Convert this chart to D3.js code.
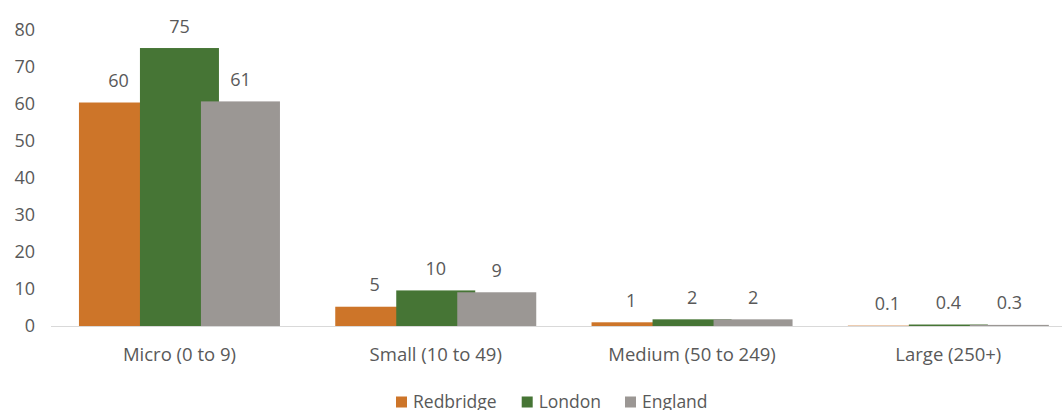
<!DOCTYPE html>
<html>
<head>
<meta charset="utf-8">
<script src="https://cdn.jsdelivr.net/npm/d3@7"></script>
<style>
html,body{margin:0;padding:0;background:#fff;overflow:hidden;}
text{font-family:"Open Sans",sans-serif;fill:#595959;}
</style>
</head>
<body>
<svg id="chart" width="1063" height="410"></svg>
<script>
const categories = ["Micro (0 to 9)", "Small (10 to 49)", "Medium (50 to 249)", "Large (250+)"];
const seriesNames = ["Redbridge", "London", "England"];
const redbridge = [60.3, 5.2, 1.0, 0.1];
const london = [75.0, 9.6, 1.8, 0.4];
const england = [60.6, 9.1, 1.8, 0.3];
const yTicks = [0, 10, 20, 30, 40, 50, 60, 70, 80];
const colors = ["#CD7529", "#467535", "#9B9794"];

const series = [redbridge, london, england];
const svg = d3.select("#chart");

const y = d3.scaleLinear().domain([0, 80]).range([326, 29.5]);
const x = d3.scaleBand().domain(categories).range([51.3, 1076.5]).paddingInner(0).paddingOuter(0);
const barW = 79, barStep = 61;
const groupW = barW + 2 * barStep;
const offset = d3.scaleBand().domain(seriesNames).range([0, 3 * barStep]);

// baseline
svg.append("line").attr("x1", 51).attr("x2", 1062).attr("y1", y(0) + 0.5).attr("y2", y(0) + 0.5)
  .attr("stroke", "#D9D9D9").attr("stroke-width", 1);

// y axis labels
svg.append("g").selectAll("text").data(yTicks).join("text")
  .attr("x", 35).attr("y", d => y(d)).attr("dy", "0.36em")
  .attr("text-anchor", "end").style("font-size", "18px").text(d => d);

// bars
const fmt = v => v >= 1 ? d3.format(".0f")(v) : d3.format(".1f")(v);
seriesNames.forEach((name, si) => {
  const g = svg.append("g");
  const vals = series[si];
  g.selectAll("rect").data(categories).join("rect")
    .attr("x", (c) => x(c) + (x.bandwidth() - groupW) / 2 + offset(name))
    .attr("y", (c, i) => y(vals[i]))
    .attr("width", barW)
    .attr("height", (c, i) => y(0) - y(vals[i]))
    .attr("fill", colors[si]);
});
seriesNames.forEach((name, si) => {
  const vals = series[si];
  svg.append("g").selectAll("text").data(categories).join("text")
    .attr("x", (c) => x(c) + (x.bandwidth() - groupW) / 2 + offset(name) + barW / 2)
    .attr("y", (c, i) => y(vals[i]) - 15.5)
    .attr("text-anchor", "middle").style("font-size", "18px")
    .text((c, i) => fmt(vals[i]));
});

// x labels
svg.append("g").selectAll("text").data(categories).join("text")
  .attr("x", c => x(c) + x.bandwidth() / 2).attr("y", 361)
  .attr("text-anchor", "middle").style("font-size", "18.5px").text(c => c);

// legend
const legX = [396, 521.7, 625];
const lg = svg.append("g");
seriesNames.forEach((name, i) => {
  lg.append("rect").attr("x", legX[i]).attr("y", 396.5).attr("width", 11).attr("height", 11).attr("fill", colors[i]);
  lg.append("text").attr("x", legX[i] + 17).attr("y", 408).style("font-size", "17.5px").text(name);
});
</script>
</body>
</html>
